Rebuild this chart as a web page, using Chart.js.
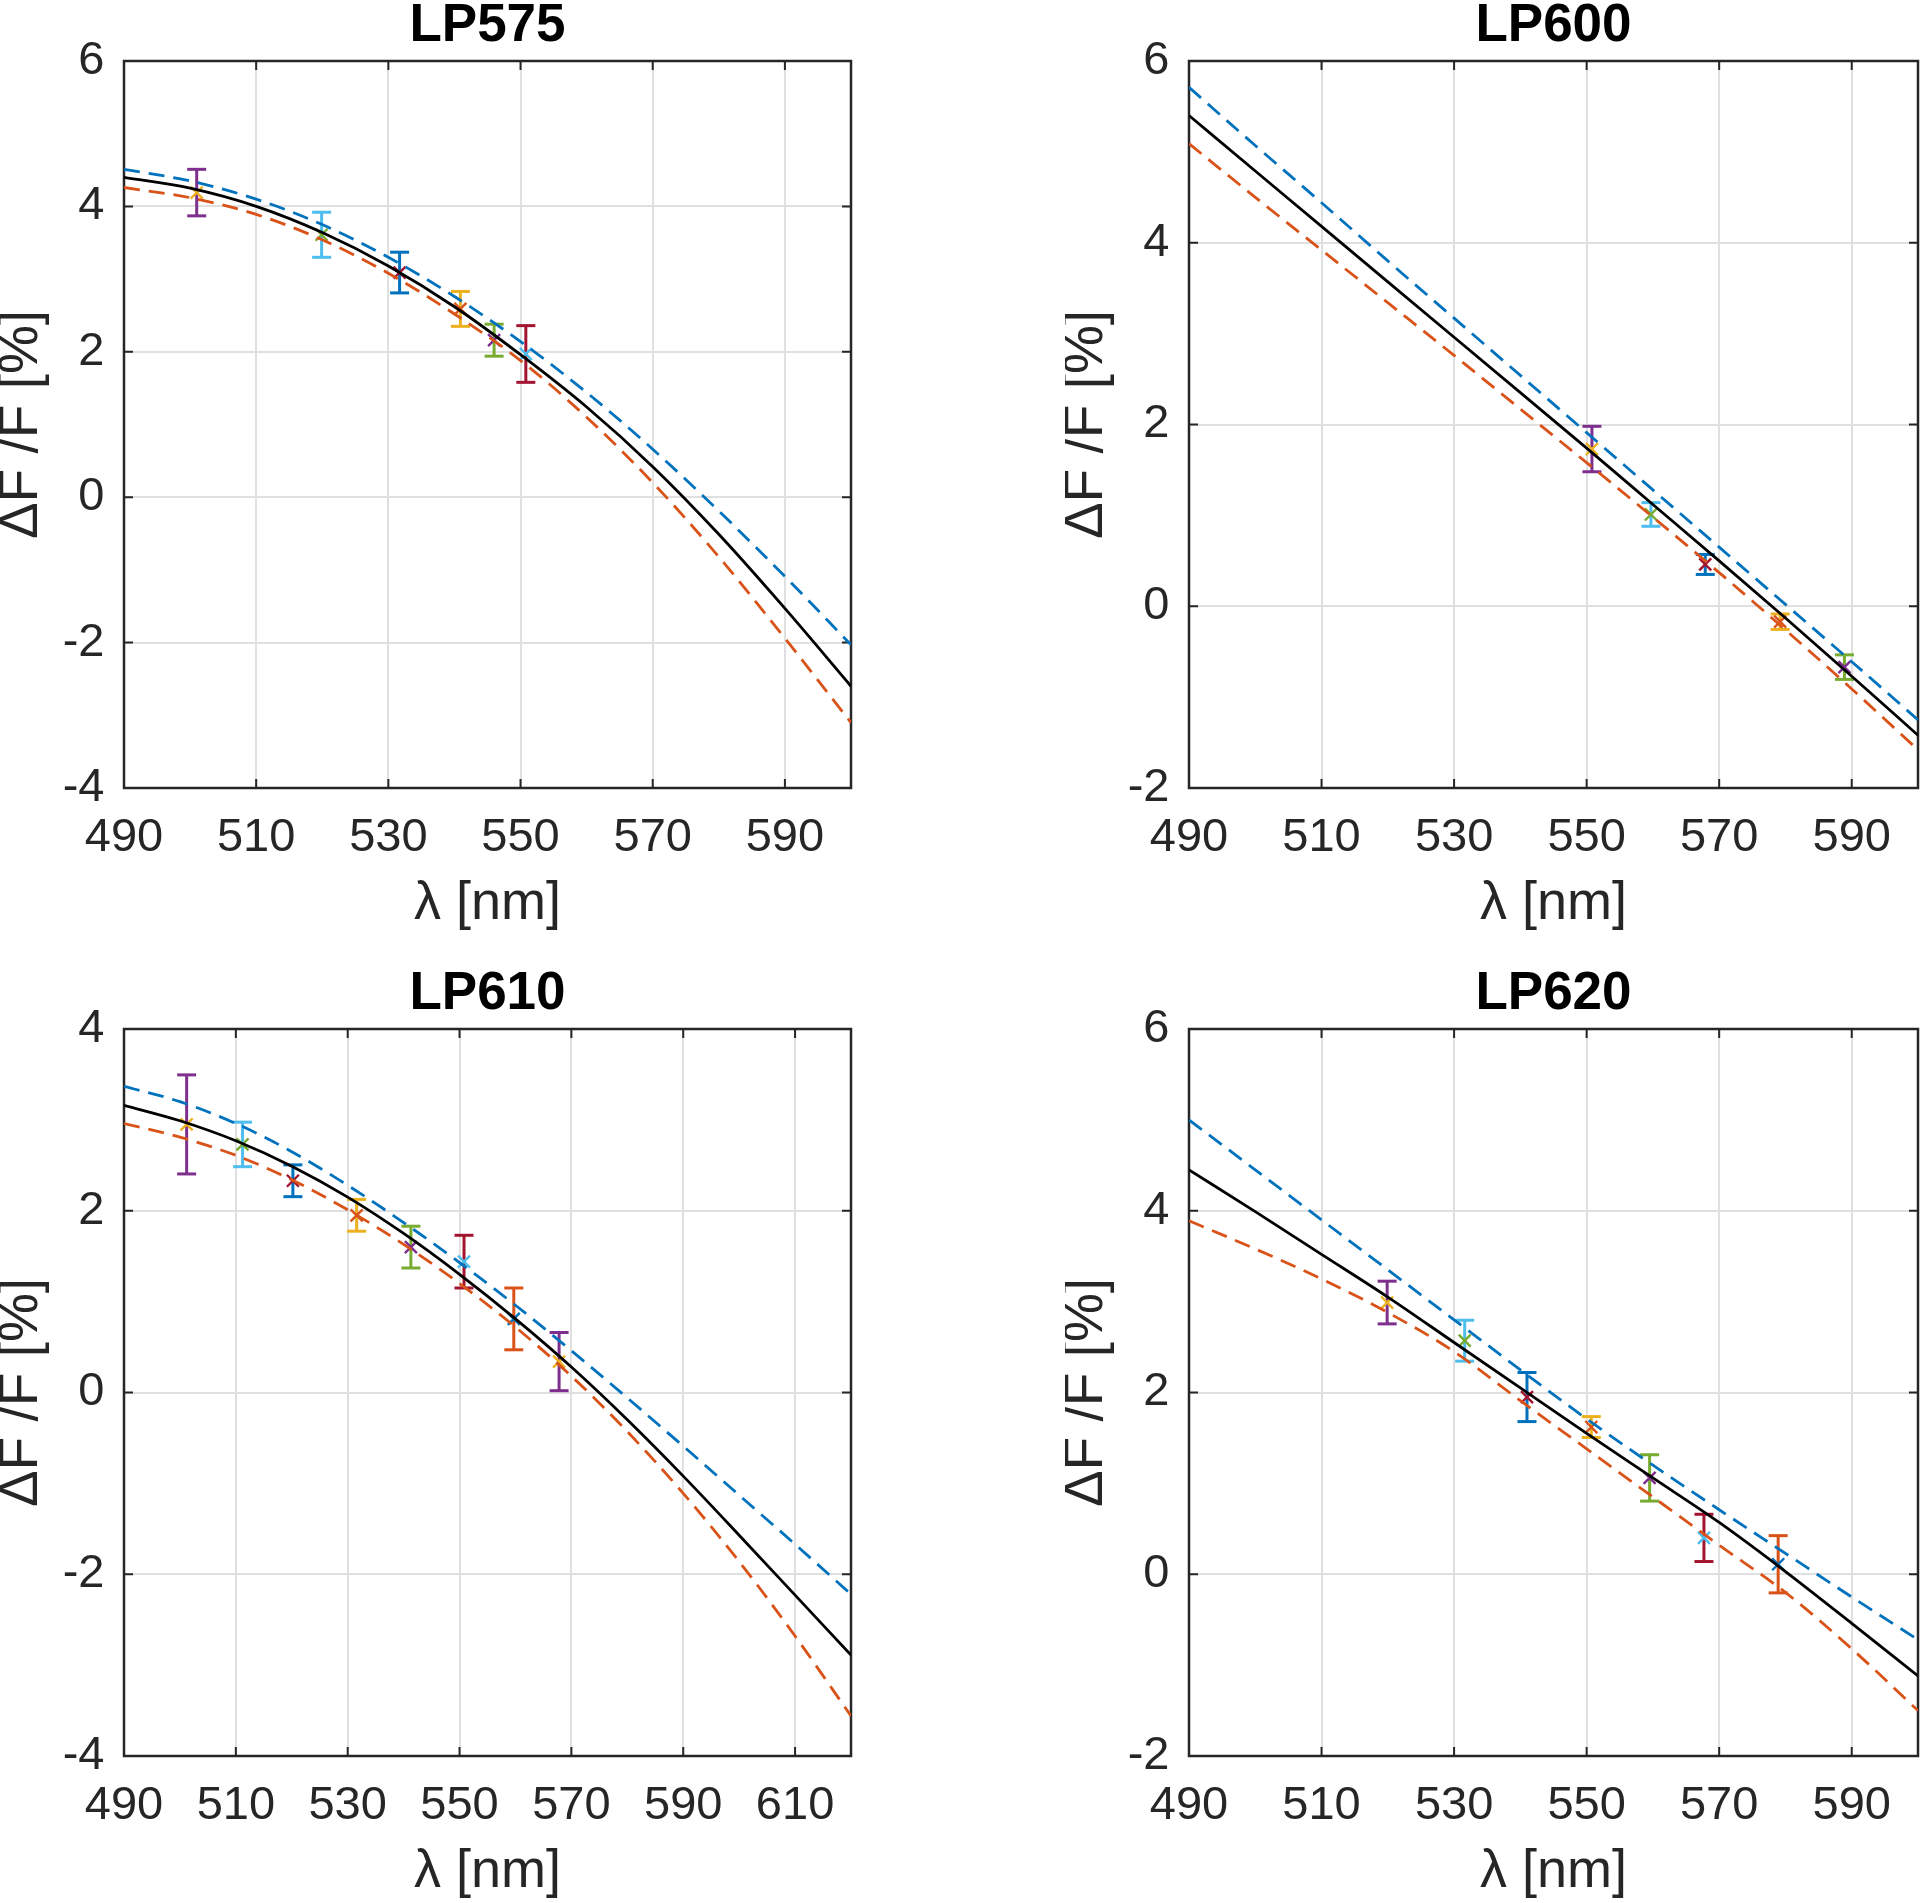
<!DOCTYPE html>
<html>
<head>
<meta charset="utf-8">
<script src="https://cdn.jsdelivr.net/npm/chart.js@4.4.1/dist/chart.umd.min.js"></script>
<style>
  html, body { margin: 0; padding: 0; background: #fff; }
  body { width: 1920px; height: 1903px; position: relative; overflow: hidden; }
  canvas { position: absolute; }
</style>
</head>
<body>
<canvas id="lp575" width="900" height="931" style="left:0px;top:0px;width:900px;height:931px"></canvas>
<canvas id="lp600" width="875" height="931" style="left:1065px;top:0px;width:875px;height:931px"></canvas>
<canvas id="lp610" width="900" height="931" style="left:0px;top:968px;width:900px;height:931px"></canvas>
<canvas id="lp620" width="875" height="931" style="left:1065px;top:968px;width:875px;height:931px"></canvas>
<script>
// ---- data ----
// LP575
const lam575 = [490, 500, 510, 520, 530, 540, 550, 560, 570, 580, 590, 600];
const fit575 = [4.40, 4.25, 4.00, 3.64, 3.18, 2.62, 1.96, 1.24, 0.42, -0.51, -1.53, -2.60];
const upper575 = [4.51, 4.35, 4.10, 3.75, 3.30, 2.76, 2.14, 1.44, 0.66, -0.19, -1.09, -2.03];
const lower575 = [4.26, 4.12, 3.89, 3.54, 3.08, 2.52, 1.88, 1.10, 0.20, -0.82, -1.94, -3.10];
const measX575 = [501.0, 519.9, 531.7, 540.9, 546.0, 550.8];
const measY575 = [4.19, 3.61, 3.09, 2.59, 2.16, 1.97];
const measErr575 = [0.32, 0.31, 0.28, 0.24, 0.22, 0.39];

// LP600
const lam600 = [490, 500, 510, 520, 530, 540, 550, 560, 570, 580, 590, 600];
const fit600 = [5.40, 4.79, 4.18, 3.57, 2.96, 2.35, 1.74, 1.12, 0.50, -0.13, -0.77, -1.42];
const upper600 = [5.71, 5.07, 4.44, 3.80, 3.17, 2.54, 1.91, 1.28, 0.65, 0.02, -0.61, -1.25];
const lower600 = [5.09, 4.50, 3.92, 3.34, 2.76, 2.17, 1.58, 0.98, 0.37, -0.26, -0.91, -1.58];
const measX600 = [550.8, 559.7, 567.9, 579.2, 588.9];
const measY600 = [1.73, 1.01, 0.46, -0.17, -0.67];
const measErr600 = [0.25, 0.13, 0.11, 0.085, 0.135];

// LP610
const lam610 = [490, 500, 510, 520, 530, 540, 550, 560, 570, 580, 590, 600, 610, 620];
const fit610 = [3.16, 2.99, 2.77, 2.49, 2.15, 1.75, 1.30, 0.81, 0.28, -0.30, -0.92, -1.57, -2.23, -2.89];
const upper610 = [3.37, 3.20, 2.96, 2.65, 2.28, 1.87, 1.43, 0.96, 0.46, -0.06, -0.59, -1.13, -1.67, -2.22];
const lower610 = [2.96, 2.81, 2.61, 2.34, 2.01, 1.63, 1.20, 0.72, 0.18, -0.43, -1.11, -1.86, -2.68, -3.56];
const measX610 = [501.2, 511.2, 520.2, 531.6, 541.3, 550.8, 559.7, 567.8];
const measY610 = [2.95, 2.73, 2.33, 1.95, 1.60, 1.44, 0.81, 0.34];
const measErr610 = [0.545, 0.245, 0.175, 0.175, 0.23, 0.29, 0.34, 0.32];

// LP620
const lam620 = [490, 500, 510, 520, 530, 540, 550, 560, 570, 580, 590, 600];
const fit620 = [4.45, 3.99, 3.52, 3.05, 2.55, 2.05, 1.55, 1.06, 0.57, 0.03, -0.54, -1.12];
const upper620 = [5.00, 4.45, 3.90, 3.35, 2.80, 2.25, 1.71, 1.20, 0.71, 0.23, -0.25, -0.72];
const lower620 = [3.89, 3.58, 3.25, 2.88, 2.45, 1.91, 1.38, 0.85, 0.32, -0.20, -0.82, -1.50];
const measX620 = [519.9, 531.6, 541.0, 550.7, 559.5, 567.7, 578.9];
const measY620 = [2.99, 2.57, 1.95, 1.62, 1.06, 0.40, 0.11];
const measErr620 = [0.235, 0.225, 0.27, 0.115, 0.255, 0.26, 0.315];

// tick labels
const xTicksShort = [490, 510, 530, 550, 570, 590];
const xTicksLong = [490, 510, 530, 550, 570, 590, 610];
const yTicksA = [-4, -2, 0, 2, 4, 6];
const yTicksB = [-2, 0, 2, 4, 6];
const yTicksC = [-4, -2, 0, 2, 4];

// ---- styling ----
const FONT = "'Liberation Sans', Arial, Helvetica, sans-serif";
const INK = '#262626';
const C = {
  blue: '#0072BD', orange: '#D95319', yellow: '#EDB120', purple: '#7E2F8E',
  green: '#77AC30', cyan: '#4DBEEE', red: '#A2142F'
};
const markerColors = [C.yellow, C.green, C.red, C.orange, C.purple, C.cyan, C.blue, C.yellow];
const barColors = [C.purple, C.cyan, C.blue, C.yellow, C.green, C.red, C.orange, C.purple];

const toPts = (xs, ys) => xs.map((x, i) => ({ x: x, y: ys[i] }));

// axes box with inward ticks on all four sides (MATLAB style)
const boxPlugin = {
  id: 'matlabBox',
  beforeDatasetsDraw(chart) {
    const { ctx, chartArea: a, scales } = chart;
    const len = 9;
    ctx.save();
    ctx.strokeStyle = INK;
    ctx.lineWidth = 2;
    ctx.beginPath();
    scales.x.ticks.forEach(t => {
      const px = scales.x.getPixelForValue(t.value);
      ctx.moveTo(px, a.bottom); ctx.lineTo(px, a.bottom - len);
      ctx.moveTo(px, a.top); ctx.lineTo(px, a.top + len);
    });
    scales.y.ticks.forEach(t => {
      const py = scales.y.getPixelForValue(t.value);
      ctx.moveTo(a.left, py); ctx.lineTo(a.left + len, py);
      ctx.moveTo(a.right, py); ctx.lineTo(a.right - len, py);
    });
    ctx.stroke();
    ctx.lineWidth = 2.5;
    ctx.strokeRect(a.left, a.top, a.right - a.left, a.bottom - a.top);
    ctx.restore();
  }
};

function makePanel(id, p) {
  const datasets = [
    { data: toPts(p.lam, p.fit), showLine: true, borderColor: '#000', borderWidth: 2.8,
      pointRadius: 0, cubicInterpolationMode: 'monotone' },
    { data: toPts(p.lam, p.upper), showLine: true, borderColor: C.blue, borderWidth: 2.8,
      borderDash: [16, 9], pointRadius: 0, cubicInterpolationMode: 'monotone' },
    { data: toPts(p.lam, p.lower), showLine: true, borderColor: C.orange, borderWidth: 2.8,
      borderDash: [16, 9], pointRadius: 0, cubicInterpolationMode: 'monotone' },
    { data: toPts(p.mx, p.my), showLine: false, pointStyle: 'crossRot', pointRadius: 8.5,
      pointBorderWidth: 2.4, pointBorderColor: p.mx.map((_, i) => markerColors[i]),
      pointBackgroundColor: 'rgba(0,0,0,0)' }
  ];
  // one small two-point dataset per error bar, caps drawn as 'line' points
  p.mx.forEach((x, i) => {
    datasets.push({
      data: [{ x: x, y: p.my[i] - p.me[i] }, { x: x, y: p.my[i] + p.me[i] }],
      showLine: true, borderColor: barColors[i], borderWidth: 3,
      pointStyle: 'line', pointRadius: 9.5, pointBorderWidth: 3,
      pointBorderColor: barColors[i]
    });
  });

  return new Chart(document.getElementById(id), {
    type: 'scatter',
    data: { datasets: datasets },
    plugins: [boxPlugin],
    options: {
      responsive: false,
      animation: false,
      devicePixelRatio: 1,
      events: [],
      layout: { padding: { left: 0, top: 0, bottom: 0, right: p.padRight } },
      plugins: {
        legend: { display: false },
        tooltip: { enabled: false },
        title: {
          display: true, text: p.title, color: '#000', fullSize: false,
          font: { family: FONT, size: 53, weight: 'bold', lineHeight: 1 },
          padding: { top: 0, bottom: 8 }
        }
      },
      scales: {
        x: {
          type: 'linear', position: 'bottom', min: 490, max: p.xMax,
          afterBuildTicks: s => { s.ticks = p.xTicks.map(v => ({ value: v })); },
          afterFit: s => { s.height = 143; },
          grid: { color: '#e0e0e0', lineWidth: 2, drawTicks: false },
          border: { display: false },
          ticks: {
            color: INK, padding: 27, maxRotation: 0, autoSkip: false,
            font: { family: FONT, size: 47, lineHeight: 1 },
            callback: v => String(v)
          },
          title: {
            display: true, text: 'λ [nm]', color: INK, padding: 0,
            font: { family: FONT, size: 54, lineHeight: 1 }
          }
        },
        y: {
          type: 'linear', position: 'left', min: p.yMin, max: p.yMax,
          afterBuildTicks: s => { s.ticks = p.yTicks.map(v => ({ value: v })); },
          afterFit: s => { s.width = 124; },
          grid: { color: '#e0e0e0', lineWidth: 2, drawTicks: false },
          border: { display: false },
          ticks: {
            color: INK, padding: 19.5, autoSkip: false,
            font: { family: FONT, size: 47, lineHeight: 1 },
            callback: v => String(v)
          },
          title: {
            display: true, text: 'ΔF /F [%]', color: INK, padding: 0,
            font: { family: FONT, size: 55, lineHeight: 0.8 }
          }
        }
      }
    }
  });
}

makePanel('lp575', { title: 'LP575', lam: lam575, fit: fit575, upper: upper575, lower: lower575,
  mx: measX575, my: measY575, me: measErr575, xTicks: xTicksShort, xMax: 600,
  yTicks: yTicksA, yMin: -4, yMax: 6, padRight: 49 });
makePanel('lp600', { title: 'LP600', lam: lam600, fit: fit600, upper: upper600, lower: lower600,
  mx: measX600, my: measY600, me: measErr600, xTicks: xTicksShort, xMax: 600,
  yTicks: yTicksB, yMin: -2, yMax: 6, padRight: 22 });
makePanel('lp610', { title: 'LP610', lam: lam610, fit: fit610, upper: upper610, lower: lower610,
  mx: measX610, my: measY610, me: measErr610, xTicks: xTicksLong, xMax: 620,
  yTicks: yTicksC, yMin: -4, yMax: 4, padRight: 49 });
makePanel('lp620', { title: 'LP620', lam: lam620, fit: fit620, upper: upper620, lower: lower620,
  mx: measX620, my: measY620, me: measErr620, xTicks: xTicksShort, xMax: 600,
  yTicks: yTicksB, yMin: -2, yMax: 6, padRight: 22 });
</script>
</body>
</html>
